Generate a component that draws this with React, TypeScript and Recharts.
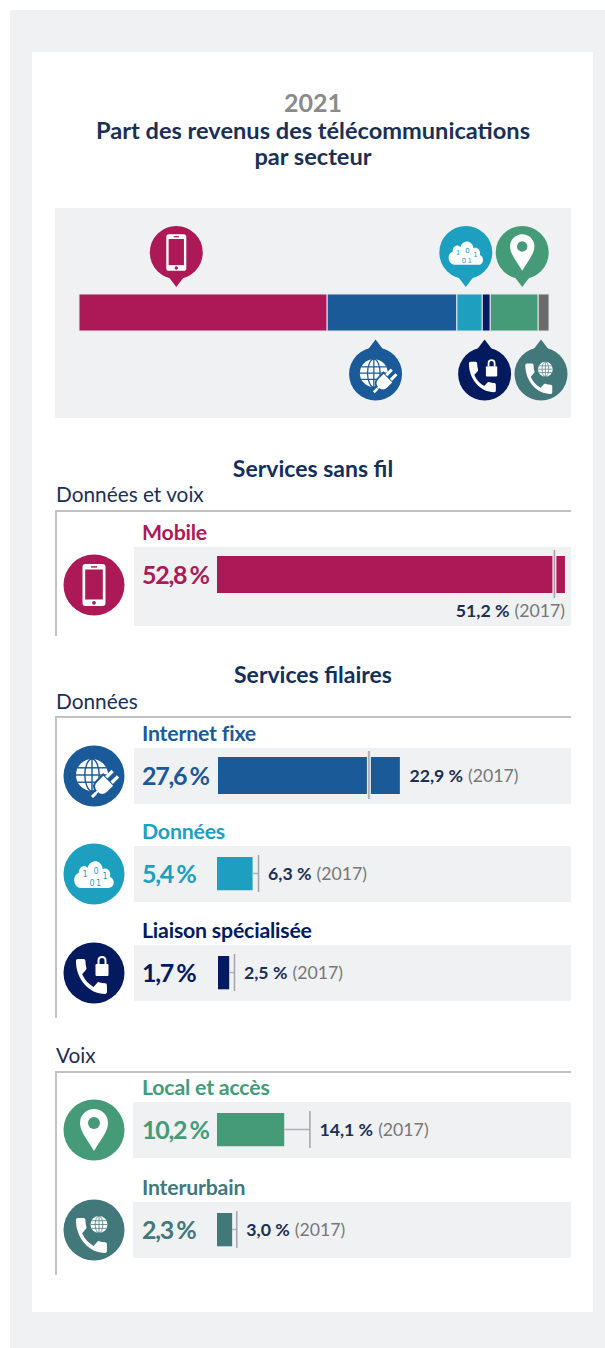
import { BarChart, Bar, XAxis, YAxis, ReferenceLine, ReferenceDot } from 'recharts';

const categories = ['Mobile', 'Internet fixe', 'Données', 'Liaison spécialisée', 'Local et accès', 'Interurbain'];
const values2021 = [52.8, 27.6, 5.4, 1.7, 10.2, 2.3];
const values2017 = [51.2, 22.9, 6.3, 2.5, 14.1, 3.0];
// where the pins point on the stacked bar, in percent
const pinAt = [20.7, 63.1, 82.3, 86.3, 94.3, 98.3];

const colors = ['#ad1957', '#1b5a99', '#1d9fc0', '#041a5e', '#459b78', '#43787b'];
const stackColors = ['#ad1957', '#1b5a99', '#1d9fc0', '#041a5e', '#459b78', '#6b6b6b'];
const iconKinds = ['phone', 'plug', 'cloud', 'lock', 'map', 'globe'];
const pinSide = ['up', 'down', 'up', 'down', 'up', 'down'];

// top of each grey row, its height, and the left of the bar
const rowTop = [547, 748, 846, 945, 1102, 1202];
const rowHeight = [79, 56, 56, 56, 56, 56];
const rowLeft = [217, 218, 217, 218, 217, 217];
const rowBgLeft = [134, 134, 134, 134, 133, 133];
const nameY = [533, 734, 832, 931, 1088, 1188];

const PX_PER_PERCENT = 6.59;
const FONT = 'Lato, sans-serif';
const NAVY = '#1c2f55';

const fr = (v: number) => v.toFixed(1).replace('.', ',') + ' %';

const HANDSET =
  'M6.62 10.79c1.44 2.83 3.76 5.14 6.59 6.59l2.2-2.2c.27-.27.67-.36 1.02-.24 1.12.37 2.33.57 3.57.57.55 0 1 .45 1 1V20c0 .55-.45 1-1 1-9.39 0-17-7.61-17-17 0-.55.45-1 1-1h3.5c.55 0 1 .45 1 1 0 1.25.2 2.45.57 3.57.11.35.03.74-.25 1.02l-2.2 2.2z';

function Globe({ x, y, r, color }: { x: number; y: number; r: number; color: string }) {
  return (
    <g transform={`translate(${x} ${y})`}>
      <circle r={r} fill="#fff" />
      <g stroke={color} strokeWidth={r * 0.09} fill="none">
        <ellipse rx={r * 0.45} ry={r} />
        <line x1={0} y1={-r} x2={0} y2={r} />
        <line x1={-r} y1={0} x2={r} y2={0} />
        <line x1={-r * 0.9} y1={-r * 0.45} x2={r * 0.9} y2={-r * 0.45} />
        <line x1={-r * 0.9} y1={r * 0.45} x2={r * 0.9} y2={r * 0.45} />
      </g>
    </g>
  );
}

// icon glyph drawn around 0,0 for a disc of radius 30
function Glyph({ kind, color }: { kind: string; color: string }) {
  if (kind === 'phone') {
    return (
      <g>
        <rect x={-11.5} y={-21} width={23} height={42} rx={3} fill="#fff" />
        <rect x={-8.8} y={-15.5} width={17.6} height={30} fill={color} />
        <rect x={-3} y={-18.8} width={6} height={1.4} fill={color} />
        <circle cx={0} cy={17.8} r={1.9} fill={color} />
      </g>
    );
  }
  if (kind === 'plug') {
    return (
      <g>
        <Globe x={-2} y={-1} r={16} color={color} />
        <g transform="translate(10 9) rotate(45)">
          <path d="M-8 -7 H8 V2 Q8 9 2 10 V12 H-2 V10 Q-8 9 -8 2 Z" fill="#fff" stroke={color} strokeWidth={2} />
          <rect x={-5.5} y={-16} width={3.4} height={9} fill="#fff" />
          <rect x={2.1} y={-16} width={3.4} height={9} fill="#fff" />
          <rect x={-1.5} y={11} width={3} height={6} fill="#fff" />
        </g>
      </g>
    );
  }
  if (kind === 'cloud') {
    return (
      <g>
        <g transform="scale(0.8 1)">
          <path
            d="M-16 14 C-26 14 -28 1 -19 -1 C-19 -8 -11 -10 -8 -6 C-5 -15 9 -15 11 -5 C18 -7 22 -1 20 3 C27 5 26 14 18 14 Z"
            fill="#fff"
          />
        </g>
        <g fill={color} fontFamily="'DejaVu Sans', sans-serif" fontSize={8} textAnchor="middle">
          <text x={-9} y={3}>1</text>
          <text x={2} y={0}>0</text>
          <text x={11} y={5}>1</text>
          <text x={-2} y={12}>0</text>
          <text x={4.5} y={12}>1</text>
        </g>
      </g>
    );
  }
  if (kind === 'lock') {
    return (
      <g>
        <path d={HANDSET} fill="#fff" transform="translate(-23.2 -19.8) scale(1.72 1.94)" />
        <rect x={1.5} y={-9} width={13} height={12} rx={1.2} fill="#fff" />
        <path d="M4.5 -9 V-12.5 Q4.5 -16 8 -16 Q11.5 -16 11.5 -12.5 V-9" fill="none" stroke="#fff" strokeWidth={2} />
      </g>
    );
  }
  if (kind === 'map') {
    return (
      <g>
        <path d="M0 21 C-5 12 -14 2 -14 -7 A14 14 0 0 1 14 -7 C14 2 5 12 0 21 Z" fill="#fff" />
        <circle cx={0} cy={-7} r={6} fill={color} />
      </g>
    );
  }
  return (
    <g>
      <path d={HANDSET} fill="#fff" transform="translate(-23.2 -17.8) scale(1.72 1.94)" />
      <Globe x={5} y={-5.5} r={8.5} color={color} />
    </g>
  );
}

function RowIcon({ i, y }: { i: number; y: number }) {
  return (
    <svg width={62} height={62} viewBox="-31 -31 62 62" style={{ position: 'absolute', left: 63, top: y - 31 }}>
      <circle r={30.5} fill={colors[i]} />
      <Glyph kind={iconKinds[i]} color={colors[i]} />
    </svg>
  );
}

// teardrop marker for the stacked bar, anchored on the bar's centre line
function Pin({ cx, cy, i }: { cx?: number; cy?: number; i: number }) {
  const up = pinSide[i] === 'up';
  const dir = up ? -1 : 1;
  const y0 = (cy as number) + dir * (up ? 60 : 61.5);
  return (
    <g transform={`translate(${cx} ${y0})`}>
      <path d={`M-8 ${-dir * 24} L0 ${-dir * 34.5} L8 ${-dir * 24} Z`} fill={colors[i]} />
      <circle r={26.5} fill={colors[i]} />
      <g transform="scale(0.87)">
        <Glyph kind={iconKinds[i]} color={colors[i]} />
      </g>
    </g>
  );
}

function T({
  x,
  y,
  size,
  color,
  weight = 400,
  center = false,
  spacing = 0,
  wordGap = 0,
  children,
}: {
  x: number;
  y: number;
  size: number;
  color: string;
  weight?: number;
  center?: boolean;
  spacing?: number;
  wordGap?: number;
  children: any;
}) {
  return (
    <div
      style={{
        position: 'absolute',
        left: x,
        top: y,
        transform: center ? 'translate(-50%, -50%)' : 'translateY(-50%)',
        fontFamily: FONT,
        fontSize: size,
        fontWeight: weight,
        color,
        lineHeight: 1,
        letterSpacing: spacing,
        wordSpacing: wordGap,
        whiteSpace: 'nowrap',
      }}
    >
      {children}
    </div>
  );
}

function StackedBar() {
  const row: Record<string, any> = { name: '2021' };
  categories.forEach((c, i) => (row[c] = values2021[i]));
  return (
    <BarChart
      width={516}
      height={210}
      data={[row]}
      layout="vertical"
      barCategoryGap={0}
      margin={{ top: 86, right: 22, bottom: 87, left: 24 }}
    >
      <XAxis type="number" hide domain={[0, 100]} />
      <YAxis type="category" dataKey="name" hide />
      {categories.map((c, i) => (
        <Bar key={c} dataKey={c} stackId="a" fill={stackColors[i]} stroke="#e6e7ea" isAnimationActive={false} />
      ))}
      {categories.map((c, i) => (
        <ReferenceDot
          key={c}
          x={pinAt[i]}
          y="2021"
          r={1}
          ifOverflow="visible"
          shape={(p: any) => <Pin cx={p.cx} cy={p.cy} i={i} />}
        />
      ))}
    </BarChart>
  );
}

function CompareText({ x, y, value, anchor }: { x: number; y: number; value: number; anchor: 'start' | 'end' }) {
  return (
    <text x={x} y={y} textAnchor={anchor} dominantBaseline="central" fontFamily={FONT} fontSize={17.7}>
      <tspan fontWeight={700} fill={NAVY}>
        {fr(value)}
      </tspan>
      <tspan fill="#777" dx={5}>
        (2017)
      </tspan>
    </text>
  );
}

function ShareRow({ i }: { i: number }) {
  const value = values2021[i];
  const prev = values2017[i];
  const grew = value > prev;
  const h = rowHeight[i];
  const left = rowLeft[i];
  const width = 571 - left;
  const below = i === 0;
  // the 2017 tick sticks out of the bar only when it falls inside it
  const top = grew ? 3 : 9;
  const plotH = grew ? 48 : 37;
  return (
    <>
      <div
        style={{
          position: 'absolute',
          left: rowBgLeft[i],
          top: rowTop[i],
          width: 571 - rowBgLeft[i],
          height: h,
          background: '#f0f1f3',
        }}
      />
      <div style={{ position: 'absolute', left, top: rowTop[i] }}>
        <BarChart
          width={width}
          height={h}
          data={[{ name: categories[i], value }]}
          layout="vertical"
          barCategoryGap={0}
          margin={{ top, right: 0, bottom: h - top - plotH, left: 0 }}
        >
          <XAxis type="number" hide domain={[0, width / PX_PER_PERCENT]} />
          <YAxis type="category" dataKey="name" hide />
          <Bar dataKey="value" barSize={37} fill={colors[i]} isAnimationActive={false} />
          {!grew && (
            <ReferenceLine
              segment={[
                { x: value, y: categories[i] },
                { x: prev, y: categories[i] },
              ]}
              stroke="#aeb0b3"
              strokeWidth={1.5}
            />
          )}
          {grew && <ReferenceLine x={prev} stroke="#e9eaed" strokeWidth={4} />}
          <ReferenceLine x={prev} stroke="#a3a5a8" strokeWidth={1.5} />
          <ReferenceLine
            x={Math.max(value, prev)}
            stroke="none"
            label={(p: any) =>
              below ? (
                <CompareText x={p.viewBox.x} y={63} value={prev} anchor="end" />
              ) : (
                <CompareText x={p.viewBox.x + 9.5} y={26.5} value={prev} anchor="start" />
              )
            }
          />
        </BarChart>
      </div>
      <RowIcon i={i} y={rowTop[i] + (below ? 38 : 27.5)} />
      <T x={142} y={nameY[i]} size={21.3} weight={700} color={colors[i]} spacing={-0.2}>
        {categories[i]}
      </T>
      <T x={142} y={rowTop[i] + 27} size={25} weight={700} color={colors[i]} spacing={-1.3} wordGap={-1.5}>
        {fr(value)}
      </T>
    </>
  );
}

function Frame({ top, bottom }: { top: number; bottom: number }) {
  return (
    <div
      style={{
        position: 'absolute',
        left: 55,
        top,
        width: 516,
        height: bottom - top,
        borderTop: '2px solid #c0c2c4',
        borderLeft: '2px solid #c0c2c4',
        boxSizing: 'border-box',
      }}
    />
  );
}

export default function App() {
  return (
    <div style={{ position: 'absolute', left: 0, top: 0, width: 605, height: 1348, background: '#fff', overflow: 'hidden' }}>
      <div style={{ position: 'absolute', left: 10, top: 10, width: 595, height: 1338, background: '#f0f1f3' }} />
      <div style={{ position: 'absolute', left: 32, top: 52, width: 561, height: 1260, background: '#fff' }} />

      <T x={313} y={101.5} size={25} weight={700} color="#8a8a8c" center>
        2021
      </T>
      <T x={313} y={131} size={23.6} weight={700} color={NAVY} center>
        Part des revenus des télécommunications
      </T>
      <T x={313} y={157} size={23.6} weight={700} color={NAVY} center>
        par secteur
      </T>

      <div style={{ position: 'absolute', left: 55, top: 208, width: 516, height: 210, background: '#f0f1f3' }}>
        <StackedBar />
      </div>

      <T x={313} y={467.5} size={23} weight={700} color="#14305a" center>
        Services sans fil
      </T>
      <T x={56} y={494} size={20.8} color={NAVY}>
        Données et voix
      </T>
      <Frame top={510} bottom={636} />

      <T x={313} y={673.5} size={23} weight={700} color="#14305a" center>
        Services filaires
      </T>
      <T x={56} y={701} size={20.8} color={NAVY}>
        Données
      </T>
      <Frame top={716} bottom={1018} />

      <T x={56} y={1055} size={20.8} color={NAVY}>
        Voix
      </T>
      <Frame top={1071} bottom={1275} />

      {categories.map((c, i) => (
        <ShareRow key={c} i={i} />
      ))}
    </div>
  );
}
